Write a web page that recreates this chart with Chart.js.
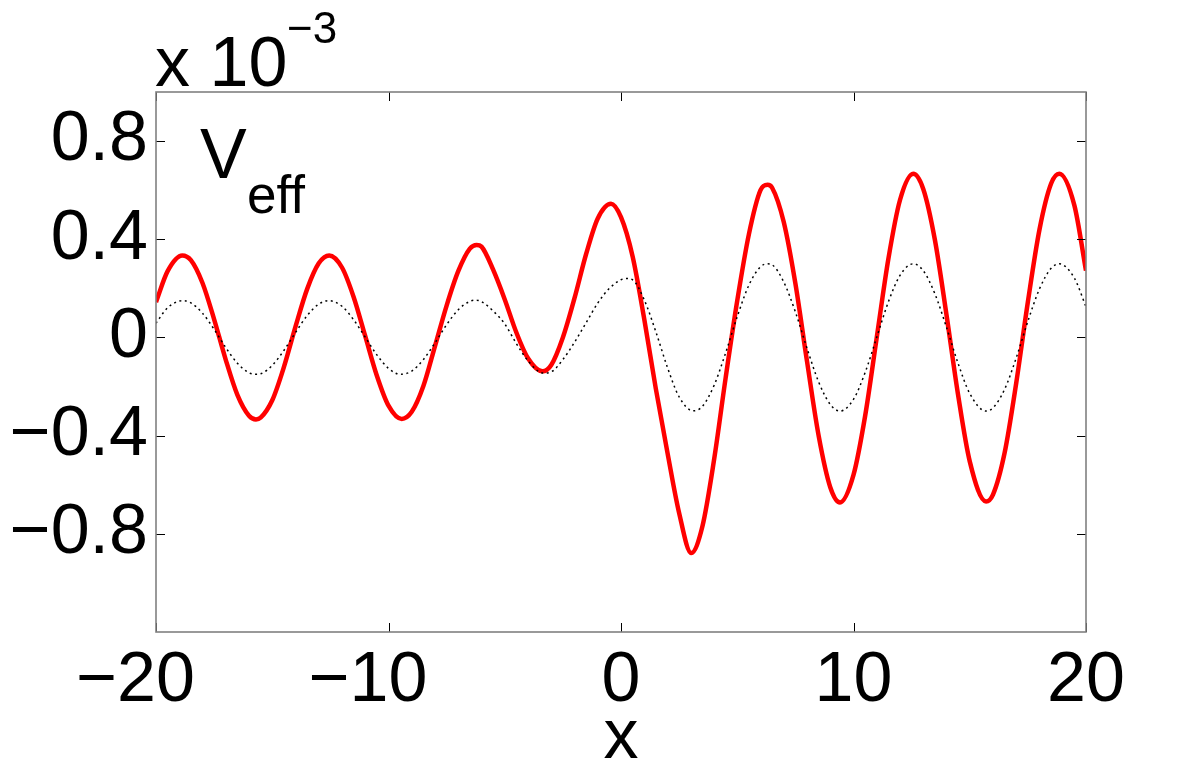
<!DOCTYPE html>
<html>
<head>
<meta charset="utf-8">
<script src="https://cdn.jsdelivr.net/npm/chart.js@4/dist/chart.umd.min.js"></script>
<style>
  html, body { margin: 0; padding: 0; background: #fff; }
  #wrap { width: 1200px; height: 775px; }
</style>
</head>
<body>
<div id="wrap"><canvas id="c" width="1200" height="775"></canvas></div>
<script>
// values are in units of 1e-3
const redX = [-20, -19.5, -18.87, -18.5, -18, -17.5, -17, -16.5, -16, -15.7, -15.5, -15, -14.5, -14, -13.5, -13,
    -12.55, -12, -11.5, -11, -10.5, -10, -9.43, -9, -8.5, -8, -7.5, -7, -6.5, -6.21, -6, -5.5, -5, -4.5, -4,
    -3.38, -3, -2.5, -2, -1.5, -1, -0.43, 0, 0.5, 1, 1.5, 2, 2.5, 3.02, 3.5, 4, 4.5, 5, 5.5, 6, 6.3, 6.5, 7,
    7.5, 8, 8.5, 9, 9.42, 10, 10.5, 11, 11.5, 12, 12.57, 13, 13.5, 14, 14.5, 15, 15.7, 16, 16.5, 17, 17.5, 18,
    18.5, 18.85, 19.5, 20];
const redV = [0.144, 0.27, 0.334, 0.315, 0.222, 0.074, -0.091, -0.234, -0.319, -0.334, -0.327, -0.256, -0.121,
    0.044, 0.197, 0.302, 0.334, 0.285, 0.165, 0.005, -0.156, -0.278, -0.332, -0.303, -0.198, -0.035, 0.13, 0.27,
    0.362, 0.377, 0.37, 0.276, 0.155, 0.02, -0.085, -0.138, -0.112, 0.0, 0.16, 0.34, 0.485, 0.545, 0.49, 0.33,
    0.075, -0.21, -0.47, -0.715, -0.878, -0.77, -0.5, -0.165, 0.15, 0.42, 0.6, 0.622, 0.61, 0.47, 0.22, -0.097,
    -0.4, -0.61, -0.672, -0.56, -0.32, 0.0, 0.32, 0.56, 0.667, 0.605, 0.398, 0.092, -0.235, -0.505, -0.668,
    -0.64, -0.47, -0.185, 0.145, 0.44, 0.627, 0.667, 0.538, 0.272];

const blackX = [-20, -19.5, -18.85, -18.5, -18, -17.5, -17, -16.5, -16, -15.7, -15.5, -15, -14.5, -14, -13.5, -13,
    -12.57, -12, -11.5, -11, -10.5, -10, -9.5, -9, -8.5, -8, -7.5, -7, -6.5, -6.25, -6, -5.5, -5, -4.5, -4,
    -3.35, -3, -2.5, -2, -1.5, -1, -0.5, 0, 0.25, 0.5, 1, 1.5, 2, 2.5, 3.1, 3.5, 4, 4.5, 5, 5.5, 6, 6.3, 6.5, 7,
    7.5, 8, 8.5, 9, 9.42, 10, 10.5, 11, 11.5, 12, 12.57, 13, 13.5, 14, 14.5, 15, 15.7, 16, 16.5, 17, 17.5, 18,
    18.5, 18.85, 19.5, 20];
const blackV = [0.058, 0.121, 0.15, 0.141, 0.099, 0.033, -0.041, -0.105, -0.144, -0.15, -0.148, -0.114, -0.053,
    0.02, 0.089, 0.136, 0.15, 0.127, 0.072, 0.001, -0.071, -0.126, -0.15, -0.137, -0.09, -0.022, 0.052, 0.113,
    0.147, 0.152, 0.146, 0.108, 0.055, -0.025, -0.095, -0.145, -0.14, -0.09, -0.02, 0.06, 0.14, 0.2, 0.235,
    0.24, 0.235, 0.153, 0.023, -0.123, -0.242, -0.299, -0.281, -0.196, -0.063, 0.085, 0.213, 0.288, 0.3, 0.296,
    0.226, 0.104, -0.044, -0.181, -0.273, -0.3, -0.252, -0.143, 0.001, 0.145, 0.253, 0.3, 0.272, 0.178, 0.041,
    -0.106, -0.228, -0.3, -0.287, -0.211, -0.083, 0.066, 0.198, 0.282, 0.3, 0.242, 0.125];

const xTicks = [-20, -10, 0, 10, 20];
const yTicks = [-0.8, -0.4, 0, 0.4, 0.8];

const FONT = "'Liberation Sans', Arial, Helvetica, sans-serif";
const minus = s => String(s).replace('-', '\u2212');

function pts(xs, vs) {
    return xs.map((x, i) => ({ x: x, y: vs[i] }));
}

// matlab style box: grey frame, inward ticks on all four sides, plus the text bits
const matlabBox = {
    id: 'matlabBox',
    afterDraw(chart) {
        const ctx = chart.ctx;
        const a = chart.chartArea;
        const xs = chart.scales.x, ys = chart.scales.y;
        ctx.save();
        ctx.strokeStyle = '#000';
        ctx.lineWidth = 1;
        const tl = 9;
        ctx.beginPath();
        xTicks.forEach(v => {
            const px = Math.round(xs.getPixelForValue(v)) + 0.5;
            ctx.moveTo(px, a.bottom); ctx.lineTo(px, a.bottom - tl);
            ctx.moveTo(px, a.top); ctx.lineTo(px, a.top + tl);
        });
        yTicks.forEach(v => {
            const py = Math.round(ys.getPixelForValue(v)) + 0.5;
            ctx.moveTo(a.left, py); ctx.lineTo(a.left + tl, py);
            ctx.moveTo(a.right, py); ctx.lineTo(a.right - tl, py);
        });
        ctx.stroke();

        ctx.strokeStyle = '#808080';
        ctx.lineWidth = 1.6;
        ctx.strokeRect(a.left, a.top, a.right - a.left, a.bottom - a.top);

        ctx.fillStyle = '#000';
        ctx.textBaseline = 'alphabetic';

        // x tick labels: digits centred on the tick, minus sign hangs to the left
        ctx.font = '70px ' + FONT;
        ctx.textAlign = 'right';
        xTicks.forEach(v => {
            const px = xs.getPixelForValue(v);
            const w = ctx.measureText(String(Math.abs(v))).width;
            ctx.fillText(minus(v), px + w / 2, 701);
        });
        ctx.textAlign = 'center';
        ctx.fillText('x', (a.left + a.right) / 2, 758);

        ctx.textAlign = 'left';
        ctx.fillText('x 10', 155, 86);
        ctx.font = '44px ' + FONT;
        ctx.fillText('\u22123', 287, 43);

        ctx.font = '70px ' + FONT;
        ctx.fillText('V', 200, 178);
        ctx.font = '53px ' + FONT;
        ctx.fillText('eff', 247, 213);
        ctx.restore();
    }
};

new Chart(document.getElementById('c'), {
    type: 'line',
    data: {
        datasets: [
            {
                data: pts(blackX, blackV),
                borderColor: '#000',
                borderWidth: 1.5,
                borderDash: [2, 3.5],
                pointRadius: 0,
                cubicInterpolationMode: 'monotone',
                fill: false
            },
            {
                data: pts(redX, redV),
                borderColor: '#ff0000',
                borderWidth: 4.5,
                pointRadius: 0,
                cubicInterpolationMode: 'monotone',
                fill: false
            }
        ]
    },
    options: {
        responsive: false,
        devicePixelRatio: 1,
        animation: false,
        layout: { padding: { left: 0, top: 92, right: 114, bottom: 0 } },
        plugins: {
            legend: { display: false },
            tooltip: { enabled: false }
        },
        scales: {
            x: {
                type: 'linear',
                min: -20,
                max: 20,
                grid: { display: false, drawTicks: false },
                border: { display: false },
                afterBuildTicks: s => { s.ticks = xTicks.map(v => ({ value: v })); },
                afterFit: s => { s.height = 143; },
                ticks: { display: false }
            },
            y: {
                min: -1.2,
                max: 1.0,
                grid: { display: false, drawTicks: false },
                border: { display: false },
                afterBuildTicks: s => { s.ticks = yTicks.map(v => ({ value: v })); },
                afterFit: s => { s.width = 156; },
                ticks: {
                    color: '#000',
                    padding: 8,
                    font: { family: FONT, size: 70 },
                    callback: v => minus(v)
                }
            }
        }
    },
    plugins: [matlabBox]
});
</script>
</body>
</html>
